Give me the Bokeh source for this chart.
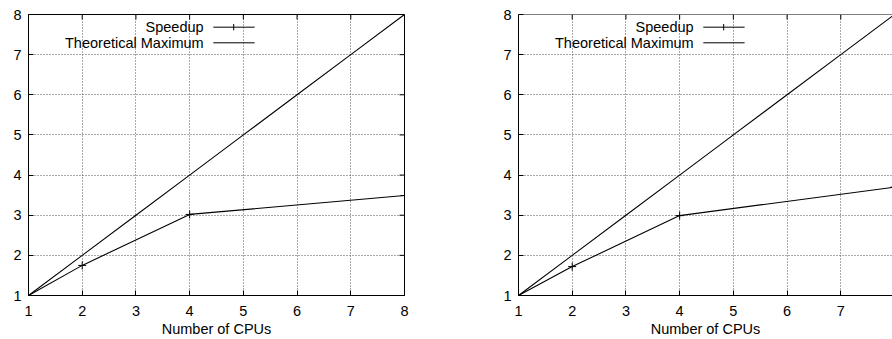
from bokeh.plotting import figure
from bokeh.layouts import row
from bokeh.models import Range1d, FixedTicker, Label, Arrow, Span, Title
from bokeh.embed import file_html
from bokeh.resources import INLINE

# ---- data ----
cpus = [1, 2, 4, 8]
speedup_left = [1.0, 1.75, 3.02, 3.49]
speedup_right = [1.0, 1.72, 2.99, 3.70]
theory_cpus = [1, 2, 3, 4, 5, 6, 7, 8]
theory_max = [1, 2, 3, 4, 5, 6, 7, 8]
tick_values = [1, 2, 3, 4, 5, 6, 7, 8]
x_title = "Number of CPUs"
legend_labels = ["Speedup", "Theoretical Maximum"]

FONT = "Liberation Sans"
FS = "14.5px"
PX_X = 376 / 7      # pixels per x unit
PX_Y = 281 / 7      # pixels per y unit
TICK = 5            # inward tick length in px


def make_plot(speedup, width, border_left, border_right, x_end, mirror_right):
    p = figure(width=width, height=339, output_backend="svg", toolbar_location=None,
               x_range=Range1d(1, x_end), y_range=Range1d(1, 8),
               min_border_left=border_left, min_border_right=border_right,
               min_border_top=14, min_border_bottom=44)
    p.outline_line_color = "black" if mirror_right else None
    p.background_fill_color = "white"
    p.border_fill_color = "white"
    ticker = FixedTicker(ticks=tick_values)
    for ax in (p.xaxis[0], p.yaxis[0]):
        ax.ticker = ticker
        ax.major_tick_in = TICK
        ax.major_tick_out = 0
        ax.minor_tick_line_color = None
        ax.axis_line_color = "black"
        ax.major_tick_line_color = "black"
        ax.major_label_text_font = FONT
        ax.major_label_text_font_size = FS
        ax.major_label_text_color = "black"
    p.xaxis[0].major_label_standoff = 10
    p.yaxis[0].major_label_standoff = 7

    # x-axis title in the panel below the axis
    p.add_layout(Title(text=x_title, align="center", text_font=FONT, text_font_size=FS,
                       text_font_style="normal", text_color="black", standoff=0),
                 "below")

    for g in (p.xgrid[0], p.ygrid[0]):
        g.ticker = ticker
        g.grid_line_color = "#555555"
        g.grid_line_dash = "1 2"
        g.grid_line_width = 1

    # top border and mirrored ticks (gnuplot style)
    if not mirror_right:
        p.add_layout(Span(location=8, dimension="width", line_color="black", line_width=1))
    p.segment(x0=tick_values, y0=[8] * len(tick_values), x1=tick_values,
              y1=[8 - TICK / PX_Y] * len(tick_values), line_color="black", line_width=1)
    if mirror_right:
        p.segment(x0=[8] * len(tick_values), y0=tick_values,
                  x1=[8 - TICK / PX_X] * len(tick_values), y1=tick_values,
                  line_color="black", line_width=1)

    p.line(theory_cpus, theory_max, line_color="black", line_width=1.1)
    p.line(cpus, speedup, line_color="black", line_width=1.1)
    p.scatter(cpus, speedup, marker="cross", size=8, line_color="black", line_width=1)

    # gnuplot-style key: text right-aligned, sample to the right
    rows_y = [7.684, 7.295]
    for lab, yy in zip(legend_labels, rows_y):
        p.add_layout(Label(x=4.26, y=yy, text=lab, text_align="right",
                           text_baseline="middle", text_font=FONT,
                           text_font_size=FS, text_color="black"))
        p.add_layout(Arrow(start=None, end=None, x_start=4.44, y_start=yy,
                           x_end=5.21, y_end=yy, line_color="black", line_width=1))
    p.add_layout(Arrow(start=None, end=None, x_start=4.82, y_start=rows_y[0] - 0.08,
                       x_end=4.82, y_end=rows_y[0] + 0.08, line_color="black", line_width=1))
    return p


p1 = make_plot(speedup_left, 498, 28, 94, 8, True)
p2 = make_plot(speedup_right, 394, 20, 0, 1 + 374 / PX_X, False)
layout = row(p1, p2)

open("out.html", "w").write(file_html(layout, INLINE))
